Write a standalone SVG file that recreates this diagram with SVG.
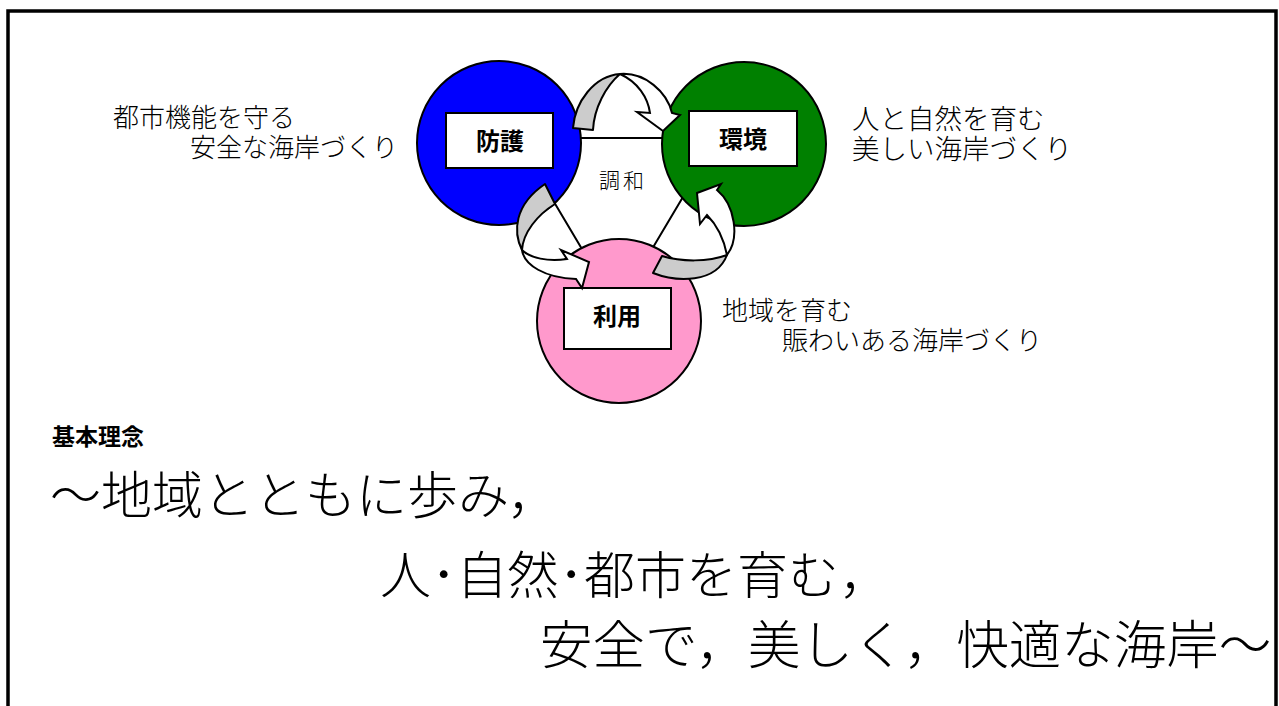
<svg xmlns="http://www.w3.org/2000/svg" width="1279" height="706" viewBox="0 0 1279 706">
<style>
.t{font-family:"Noto Sans CJK JP","Noto Sans CJK SC",sans-serif;fill:#000;font-weight:300}
.lbl{font-family:"Noto Sans CJK JP","Noto Sans CJK SC",sans-serif;font-weight:700;font-size:24px;text-anchor:middle;fill:#000}
.circ{stroke:#000;stroke-width:2}
.box{fill:#fff;stroke:#000;stroke-width:2}
.gray{fill:#cccccc;stroke:#000;stroke-width:2;stroke-linejoin:round}
.white{fill:#fff;stroke:#000;stroke-width:2;stroke-linejoin:miter}
</style>
<rect x="8" y="11" width="1268" height="800" fill="#fff" stroke="#000" stroke-width="3.5"/>
<g id="triangle">
<polygon points="516,138 718,138 617,308" fill="#fff" stroke="#000" stroke-width="2"/>
</g>
<g id="bougo">
<circle class="circ" cx="499" cy="143" r="82" fill="#0000ff"/>
<rect class="box" x="446" y="113" width="107" height="55"/>
<text class="lbl" x="500" y="150">防護</text>
</g>
<g id="kankyo">
<circle class="circ" cx="744" cy="144" r="82" fill="#008000"/>
<rect class="box" x="689" y="111" width="108" height="55"/>
<text class="lbl" x="743" y="148">環境</text>
</g>
<g id="riyou">
<circle class="circ" cx="619" cy="321" r="82" fill="#ff99cc"/>
<rect class="box" x="564" y="288" width="107" height="61"/>
<text class="lbl" x="617" y="325">利用</text>
</g>
<g id="connectors">
<path class="gray" d="M573,128 C575,102 594,76 620,74 C606,86 594,108 593,130 Z"/>
<path class="white" d="M620,74 C645,72 667,92 672,113 L680,115 L663,131 L637,112 L650,113 C648,98 638,82 620,74 Z"/>
<path class="gray" d="M545,184 L555,204 C537,215 523,233 522,250 C513,232 514,205 545,184 Z"/>
<path class="white" d="M522,250 C524,265 545,278 576,279 L582,288 L589,262 L561,250 L567,259 C548,262 530,258 522,250 Z"/>
<path class="gray" d="M653,273 L662,256 C682,262 708,262 727,255 C716,284 676,282 653,273 Z"/>
<path class="white" d="M727,255 C740,238 735,205 717,190 L721,184 L697,193 L700,224 L707,215 C717,225 724,240 727,255 Z"/>
</g>
<text class="t" x="623" y="188" font-size="21" text-anchor="middle" letter-spacing="3">調和</text>
<g id="labels">
<text class="t" x="113" y="127" font-size="26">都市機能を守る</text>
<text class="t" x="190" y="157" font-size="26">安全な海岸づくり</text>
<text class="t" x="852" y="129" font-size="27.5">人と自然を育む</text>
<text class="t" x="852" y="159" font-size="27.5">美しい海岸づくり</text>
<text class="t" x="722" y="320" font-size="26">地域を育む</text>
<text class="t" x="782" y="350" font-size="26">賑わいある海岸づくり</text>
</g>
<g id="rinen">
<text x="52" y="445" font-size="23" font-weight="700" font-family="'Noto Sans CJK JP',sans-serif">基本理念</text>
<text class="t" x="50" y="514" font-size="51">〜地域とともに歩み，</text>
<text class="t" x="380" y="594" font-size="51">人･自然･都市を育む，</text>
<text class="t" x="540" y="664" font-size="52.5">安全で，美しく，快適な海岸〜</text>
</g>
</svg>
